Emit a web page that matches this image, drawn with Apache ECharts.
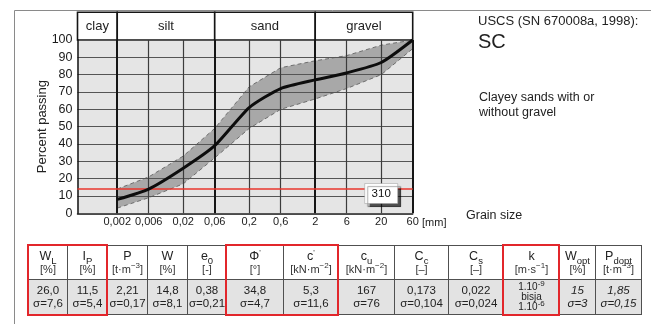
<!DOCTYPE html>
<html><head><meta charset="utf-8">
<script src="https://cdn.jsdelivr.net/npm/echarts@6/dist/echarts.min.js"></script>
<style>
html,body{margin:0;padding:0;background:#fff;}
#wrap{position:relative;width:651px;height:324px;overflow:hidden;}
#chart{position:absolute;left:0;top:0;width:651px;height:324px;}
#tbl{position:absolute;left:28px;top:245px;}
table{border-collapse:collapse;table-layout:fixed;font-family:"Liberation Sans",Arial,sans-serif;color:#222;}
td{border:1.5px solid #505050;text-align:center;padding:0;vertical-align:middle;}
tr.h td{background:#fff;height:33px;}
tr.d td{background:#e3e3e3;height:34px;}
.l1{font-size:12.5px;line-height:14px;}
.l2{font-size:11px;line-height:13px;color:#333;}
.dv{font-size:11.5px;line-height:13px;}
.kk{font-size:10px;line-height:10px;}
.it{font-style:italic;}
.l1 sub{font-size:9.5px;line-height:0;}
sub,sup{font-size:8px;line-height:0;}
.red{position:absolute;border:2.5px solid #e2262b;box-sizing:border-box;}
</style></head><body>
<div id="wrap"><div id="chart"></div><div id="tbl"></div></div>
<script>
// ---- chart data ----
const grainSizes = [0.002, 0.006, 0.02, 0.06, 0.2, 0.6, 2, 6, 20, 60];
const tickLabels = ['0,002', '0,006', '0,02', '0,06', '0,2', '0,6', '2', '6', '20', '60'];
const meanPassing = [8, 14, 26, 39, 61, 72, 77, 81, 87, 100];
const upperPassing = [14, 21, 33, 49, 73, 84, 88, 91, 97, 100];
const lowerPassing = [3, 9, 17, 32, 49, 60, 66, 72, 80, 95];
const fractionNames = ['clay', 'silt', 'sand', 'gravel'];
const fractionBounds = [0.0005, 0.002, 0.06, 2, 60];
const majorBounds = [0.002, 0.06, 2, 60];
const referenceLine = 14;
const sampleCount = '310';
const sampleCountAt = [20, 11.4];

// ---- table data ----
const colHeads = ['W<sub>L</sub>', 'I<sub>P</sub>', 'P', 'W', 'e<sub>0</sub>', 'Φ<sup>\'</sup>', 'c<sup>\'</sup>', 'c<sub>u</sub>', 'C<sub>c</sub>', 'C<sub>s</sub>', 'k', 'W<sub>opt</sub>', 'P<sub>dopt</sub>'];
const colUnits = ['[%]', '[%]', '[t·m<sup>−3</sup>]', '[%]', '[-]', '[°]', '[kN·m<sup>−2</sup>]', '[kN·m<sup>−2</sup>]', '[–]', '[–]', '[m·s<sup>−1</sup>]', '[%]', '[t·m<sup>−3</sup>]'];
const colMeans = ['26,0', '11,5', '2,21', '14,8', '0,38', '34,8', '5,3', '167', '0,173', '0,022', '1.10<sup>-9</sup>', '15', '1,85'];
const colSigmas = ['σ=7,6', 'σ=5,4', 'σ=0,17', 'σ=8,1', 'σ=0,21', 'σ=4,7', 'σ=11,6', 'σ=76', 'σ=0,104', 'σ=0,024', 'bisja<br>1.10<sup>-6</sup>', 'σ=3', 'σ=0,15'];
const colWidths = [39, 40, 40, 40, 39, 57, 55, 56, 54, 55, 56, 36, 46];
const italicCols = [11, 12];
const kCol = 10;
const redGroups = [[0, 1], [5, 6], [10, 10]];

// build table
(function () {
  let h = '<table><colgroup>' + colWidths.map(w => '<col style="width:' + w + 'px">').join('') + '</colgroup>';
  h += '<tr class="h">' + colHeads.map((t, i) => '<td><div class="l1">' + t + '</div><div class="l2">' + colUnits[i] + '</div></td>').join('') + '</tr>';
  h += '<tr class="d">' + colMeans.map((m, i) => {
    const it = italicCols.indexOf(i) >= 0 ? ' it' : '';
    if (i === kCol) return '<td><div class="kk">' + m + '<br>' + colSigmas[i] + '</div></td>';
    return '<td><div class="dv' + it + '">' + m + '<br>' + colSigmas[i] + '</div></td>';
  }).join('') + '</tr></table>';
  const wrap = document.getElementById('tbl');
  wrap.innerHTML = h;
  const starts = [0];
  colWidths.forEach((w, i) => starts.push(starts[i] + w));
  redGroups.forEach(g => {
    const d = document.createElement('div');
    d.className = 'red';
    d.style.left = (starts[g[0]] - 1) + 'px';
    d.style.top = '-1px';
    d.style.width = (starts[g[1] + 1] - starts[g[0]] + 2) + 'px';
    d.style.height = '72px';
    wrap.appendChild(d);
  });
})();

const FONT = '"Liberation Sans", Arial, sans-serif';
const PLOT_BG = '#e5e5e5';
const xMin = fractionBounds[0], xMax = fractionBounds[fractionBounds.length - 1];
const pairs = arr => grainSizes.map((g, i) => [g, arr[i]]);

const vLines = grainSizes.map((g, i) => {
  const major = majorBounds.indexOf(g) >= 0;
  return {
    xAxis: g, name: tickLabels[i],
    lineStyle: { color: major ? '#151515' : '#3c3c3c', width: major ? 2 : 1.2, type: 'solid' }
  };
});

const chart = echarts.init(document.getElementById('chart'), null, { renderer: 'canvas' });
chart.setOption({
  animation: false,
  textStyle: { fontFamily: FONT },
  grid: [
    { left: 77.5, right: 238.3, top: 40, bottom: 110.7, show: true, backgroundColor: PLOT_BG, borderWidth: 0, outerBoundsMode: 'none' },
    { left: 77.5, right: 238.3, top: 12.3, height: 27.7, show: false, outerBoundsMode: 'none' }
  ],
  xAxis: [
    { type: 'log', logBase: 10, min: xMin, max: xMax, gridIndex: 0,
      axisLine: { show: true, lineStyle: { color: '#111', width: 1.5 } },
      axisTick: { show: false }, axisLabel: { show: false }, splitLine: { show: false } },
    { type: 'log', logBase: 10, min: xMin, max: xMax, gridIndex: 1, show: false }
  ],
  yAxis: [
    { type: 'value', min: 0, max: 100, interval: 10, gridIndex: 0, z: 3,
      name: 'Percent passing', nameLocation: 'middle', nameGap: 29, nameMoveOverlap: false,
      nameTextStyle: { fontSize: 13, color: '#222', fontFamily: FONT },
      axisLine: { show: true, lineStyle: { color: '#111', width: 1.5 } },
      axisTick: { show: false },
      axisLabel: { fontSize: 12.5, color: '#1a1a1a', margin: 5, fontFamily: FONT },
      splitLine: { show: true, lineStyle: { color: '#555', width: 1 } } },
    { type: 'value', min: 0, max: 1, gridIndex: 1, show: false }
  ],
  graphic: [
    { type: 'line', shape: { x1: 14.5, y1: 10.5, x2: 651, y2: 10.5 }, style: { stroke: '#8a8a8a', lineWidth: 1 }, silent: true },
    { type: 'line', shape: { x1: 14.5, y1: 10.5, x2: 14.5, y2: 324 }, style: { stroke: '#8a8a8a', lineWidth: 1 }, silent: true },
    { type: 'text', x: 478, y: 21.5, style: { text: 'USCS (SN 670008a, 1998):', font: '13px ' + FONT, fill: '#222', verticalAlign: 'middle' } },
    { type: 'text', x: 478, y: 42, style: { text: 'SC', font: '20px ' + FONT, fill: '#222', verticalAlign: 'middle' } },
    { type: 'text', x: 479, y: 98, style: { text: 'Clayey sands with or', font: '12.5px ' + FONT, fill: '#222', verticalAlign: 'middle' } },
    { type: 'text', x: 479, y: 112.5, style: { text: 'without gravel', font: '12.5px ' + FONT, fill: '#222', verticalAlign: 'middle' } },
    { type: 'text', x: 466, y: 216, style: { text: 'Grain size', font: '12.5px ' + FONT, fill: '#222', verticalAlign: 'middle' } },
    { type: 'text', x: 422, y: 222.5, style: { text: '[mm]', font: '11px ' + FONT, fill: '#222', verticalAlign: 'middle' } }
  ],
  series: [
    { name: 'upper', type: 'line', xAxisIndex: 0, yAxisIndex: 0, data: pairs(upperPassing),
      symbol: 'none', z: 2, lineStyle: { color: '#6e6e6e', width: 1, type: [4, 3] },
      areaStyle: { color: '#a8a8a8', opacity: 1 } },
    { name: 'lower', type: 'line', xAxisIndex: 0, yAxisIndex: 0, data: pairs(lowerPassing),
      symbol: 'none', z: 2, lineStyle: { color: '#6e6e6e', width: 1, type: [4, 3] },
      areaStyle: { color: PLOT_BG, opacity: 1 } },
    { name: 'grid', type: 'line', xAxisIndex: 0, yAxisIndex: 0, data: [], z: 4,
      markLine: { silent: true, symbol: ['none', 'none'], animation: false, precision: 8,
        label: { show: true, position: 'start', distance: 3, formatter: p => p.name, fontSize: 11, color: '#1a1a1a', fontFamily: FONT },
        data: vLines.concat([{ yAxis: referenceLine, name: '', label: { show: false }, lineStyle: { color: '#e8362d', width: 1.6, type: 'solid' } }]) },
      markPoint: { silent: true, animation: false,
        data: [{ coord: sampleCountAt, name: sampleCount, symbol: 'rect', symbolSize: [33, 20],
          itemStyle: { color: '#fff', borderColor: '#999', borderWidth: 0.5, shadowColor: 'rgba(0,0,0,0.65)', shadowOffsetX: 3, shadowOffsetY: 3, shadowBlur: 1 },
          label: { show: true, position: 'inside', formatter: sampleCount, fontSize: 11.5, color: '#111', fontFamily: FONT } }] } },
    { name: 'mean', type: 'line', xAxisIndex: 0, yAxisIndex: 0, data: pairs(meanPassing), symbol: 'none', z: 5, smooth: 0.2,
      lineStyle: { color: '#0d0d0d', width: 3 } },
    { name: 'fractions', type: 'line', xAxisIndex: 1, yAxisIndex: 1, data: [], z: 4,
      markArea: { silent: true, animation: false, precision: 8,
        itemStyle: { color: '#fff', borderColor: '#151515', borderWidth: 1.6 },
        label: { show: true, position: 'inside', fontSize: 13, color: '#222', fontFamily: FONT, padding: [4, 0, 0, 0] },
        data: fractionNames.map((n, i) => [{ xAxis: fractionBounds[i], name: n }, { xAxis: fractionBounds[i + 1] }]) } }
  ]
});
</script>
</body></html>
